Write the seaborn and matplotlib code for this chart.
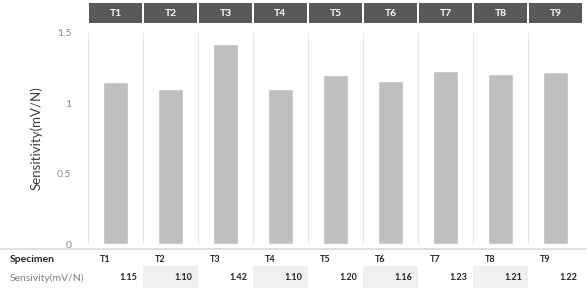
import matplotlib
matplotlib.use("Agg")
import matplotlib.pyplot as plt
import matplotlib.transforms as mtransforms
from matplotlib.patches import Rectangle
import seaborn as sns
import pandas as pd

specimens = ["T1", "T2", "T3", "T4", "T5", "T6", "T7", "T8", "T9"]
sensitivity = [1.15, 1.10, 1.42, 1.10, 1.20, 1.16, 1.23, 1.21, 1.22]
y_ticks = [0, 0.5, 1, 1.5]
y_tick_labels = ["0", "0.5", "1", "1.5"]
y_label = "Sensitivity(mV/N)"
row1_label = "Specimen"
row2_label = "Sensivity(mV/N)"

df = pd.DataFrame({"Specimen": specimens, "Sensitivity": sensitivity})

sns.set_theme(style="white")
plt.rcParams["font.family"] = ["Lato", "DejaVu Sans"]

W, H = 587, 288
fig = plt.figure(figsize=(W / 100, H / 100), dpi=100)

def fx(px):
    return px / W

def fy(py):
    return 1 - py / H

ax = fig.add_axes([fx(88), fy(244), fx(583) - fx(88), fy(33) - fy(244)])
sns.barplot(data=df, x="Specimen", y="Sensitivity", color="#bfbfbf",
            saturation=1, width=0.44, ax=ax)
ax.set_xlim(-0.5, len(specimens) - 0.5)
ax.set_ylim(0, 1.5)
ax.set_yticks(y_ticks)
ax.set_yticklabels(y_tick_labels, color="#8c8c8c", fontsize=7.5)
ax.tick_params(axis="y", length=0, pad=12)
ax.set_xticks([])
ax.set_xlabel("")
ax.set_ylabel(y_label, fontsize=9.5, color="#404040", labelpad=10)
for s in ax.spines.values():
    s.set_visible(False)
for i in range(len(specimens) + 1):
    ax.axvline(i - 0.5, color="#e6e6e6", lw=0.8, zorder=0)

trans_top = mtransforms.blended_transform_factory(ax.transData, fig.transFigure)

# header boxes
for i, name in enumerate(specimens):
    r = Rectangle((i - 0.5 + 0.02, fy(23)), 0.96, fy(3) - fy(23),
                  transform=trans_top, facecolor="#595959", edgecolor="none",
                  clip_on=False, zorder=1)
    fig.add_artist(r)
    t = fig.text(i, fy(13), name, transform=trans_top, ha="center",
                 va="center", color="white", fontsize=7.5, fontweight="bold")
    t.set_zorder(5)

# table
fig.add_artist(plt.Line2D([0, 1], [fy(249), fy(249)], transform=fig.transFigure,
                          color="#d9d9d9", lw=1.2, zorder=2))
for i, (name, val) in enumerate(zip(specimens, sensitivity)):
    if i % 2 == 1:
        r = Rectangle((i - 0.5, fy(288)), 1.0, fy(266) - fy(288),
                      transform=trans_top, facecolor="#f0f0f0",
                      edgecolor="none", clip_on=False, zorder=1)
        fig.add_artist(r)
    t1 = fig.text(i - 0.28, fy(259), name, transform=trans_top, ha="left",
                  va="center", color="#262626", fontsize=6.5,
                  fontweight="bold")
    t1.set_zorder(5)
    t2 = fig.text(i + 0.4, fy(278), f"{val:.2f}", transform=trans_top,
                  ha="right", va="center", color="#262626", fontsize=6.5,
                  fontweight="bold")
    t2.set_zorder(5)

fig.text(fx(10), fy(259), row1_label, ha="left", va="center",
         color="#262626", fontsize=7.5, fontweight="bold")
fig.text(fx(10), fy(278), row2_label, ha="left", va="center",
         color="#808080", fontsize=7.5)

fig.savefig("out.png", dpi=100)
